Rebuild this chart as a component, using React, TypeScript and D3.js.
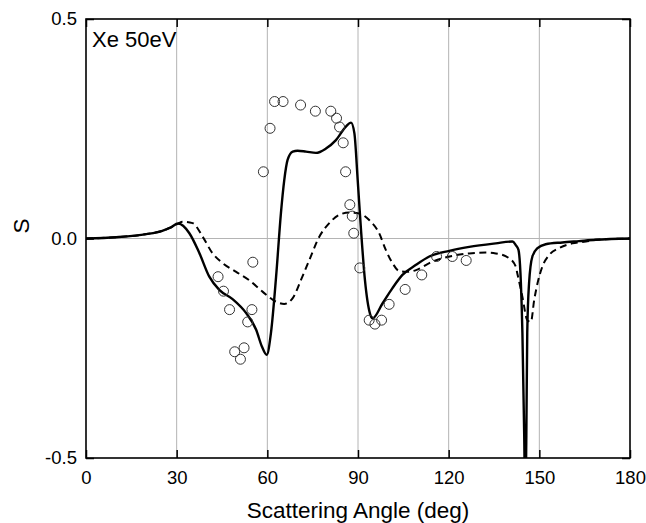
import { useRef, useEffect } from 'react'
import * as d3 from 'd3'

// theory, solid line: [angle (deg), S]
const solidCurve: [number, number][] = [
  [0, 0], [10, 0.003], [20, 0.01], [25, 0.017], [28, 0.025], [30.5, 0.034],
  [34.2, 0.012], [37.5, -0.033], [40.8, -0.087], [44.1, -0.117], [48.5, -0.138],
  [53.0, -0.17], [56.3, -0.208], [58.2, -0.246], [59.8, -0.265], [61.2, -0.215],
  [62.9, -0.087], [64.5, 0.058], [65.6, 0.133], [66.7, 0.179], [68.4, 0.198],
  [70.0, 0.2], [72.8, 0.198], [76.1, 0.195], [79.4, 0.205], [82.7, 0.224],
  [86.0, 0.255], [87.7, 0.264], [88.8, 0.24], [89.9, 0.133], [91.0, 0.019],
  [92.3, -0.095], [94.0, -0.172], [94.8, -0.182], [98.1, -0.148], [101.4, -0.113],
  [104.7, -0.083], [109.2, -0.06], [113.6, -0.041], [120.2, -0.028], [126.8, -0.019],
  [135.6, -0.011], [141.1, -0.007], [142.2, -0.015], [143.1, -0.026], [143.9, -0.102],
  [144.4, -0.215], [145.0, -0.45], [145.35, -0.62], [145.7, -0.45], [146.0, -0.215],
  [146.6, -0.102], [147.7, -0.041], [149.4, -0.022], [152.1, -0.013], [157.6, -0.009],
  [163.1, -0.006], [168.7, -0.003], [180, 0],
]

// theory, dashed line
const dashedCurve: [number, number][] = [
  [0, 0], [10, 0.003], [20, 0.01], [25, 0.017], [28, 0.025], [30.5, 0.034],
  [32.0, 0.038], [35.3, 0.035], [38.6, 0.004], [41.9, -0.034], [45.2, -0.056],
  [49.7, -0.076], [54.0, -0.095], [58.4, -0.121], [62.9, -0.144], [65.6, -0.149],
  [68.4, -0.136], [71.1, -0.095], [73.9, -0.049], [77.2, 0.004], [80.5, 0.035],
  [83.8, 0.054], [87.1, 0.059], [90.4, 0.057], [93.7, 0.042], [97.0, 0.012],
  [99.2, -0.026], [101.4, -0.056], [103.6, -0.074], [105.9, -0.076], [109.2, -0.072],
  [113.6, -0.056], [117.9, -0.045], [122.4, -0.038], [126.8, -0.034], [132.3, -0.032],
  [135.6, -0.034], [140.0, -0.045], [142.2, -0.064], [142.7, -0.079], [144.4, -0.133],
  [146.0, -0.186], [147.2, -0.19], [148.3, -0.14], [149.4, -0.102], [151.0, -0.064],
  [153.2, -0.038], [156.5, -0.022], [160.9, -0.011], [165.4, -0.007], [168.7, -0.003],
  [180, 0],
]

// experiment, open circles
const expPoints: [number, number][] = [
  [43.7, -0.087], [45.5, -0.12], [47.5, -0.162], [49.2, -0.258], [51.1, -0.275],
  [52.3, -0.249], [53.5, -0.19], [54.9, -0.162], [55.2, -0.054], [58.7, 0.152],
  [60.9, 0.251], [62.4, 0.312], [65.2, 0.312], [71.0, 0.304], [75.9, 0.29],
  [81.0, 0.29], [82.9, 0.274], [83.9, 0.254], [85.1, 0.218], [85.9, 0.152],
  [87.3, 0.077], [88.1, 0.051], [88.6, 0.012], [90.6, -0.067], [93.7, -0.186],
  [95.6, -0.195], [97.8, -0.186], [100.3, -0.15], [105.6, -0.116], [111.1, -0.083],
  [116.0, -0.041], [121.2, -0.041], [125.8, -0.05],
]

const xTicks = [0, 30, 60, 90, 120, 150, 180]
const yTicks = [-0.5, 0, 0.5]

const W = 646
const H = 523
const margin = { top: 19, right: 16, bottom: 65, left: 86 }
const font = 'Liberation Sans, Arial, sans-serif'

const App = () => {
  const svgRef = useRef<SVGSVGElement>(null)

  useEffect(() => {
    const svg = d3.select(svgRef.current)
    svg.selectAll('*').remove()

    const iw = W - margin.left - margin.right
    const ih = H - margin.top - margin.bottom

    const x = d3.scaleLinear().domain([0, 180]).range([0, iw])
    const y = d3.scaleLinear().domain([-0.5, 0.5]).range([ih, 0])

    svg.append('defs').append('clipPath').attr('id', 'plot-clip')
      .append('rect').attr('width', iw).attr('height', ih)

    const g = svg.append('g').attr('transform', `translate(${margin.left},${margin.top})`)

    // grid
    g.selectAll('.vgrid')
      .data(xTicks.slice(1, -1))
      .join('line')
      .attr('x1', d => x(d)).attr('x2', d => x(d))
      .attr('y1', 0).attr('y2', ih)
      .attr('stroke', '#b4b4b4').attr('stroke-width', 1)
    g.append('line')
      .attr('x1', 0).attr('x2', iw)
      .attr('y1', y(0)).attr('y2', y(0))
      .attr('stroke', '#b4b4b4').attr('stroke-width', 1)

    // axes (inward ticks)
    const fmt = (d: number) => d.toFixed(1)
    const styleAxis = (sel: any) => {
      sel.select('.domain').remove()
      sel.selectAll('line').attr('stroke', '#000').attr('stroke-width', 1.5)
      sel.selectAll('text').attr('fill', '#000')
    }

    g.append('g')
      .attr('transform', `translate(0,${ih})`)
      .call(d3.axisBottom(x).tickValues(xTicks).tickSizeInner(-8).tickSizeOuter(0).tickPadding(12.5))
      .attr('font-family', font).attr('font-size', 18.5)
      .call(styleAxis)
    g.append('g')
      .call(d3.axisTop(x).tickValues(xTicks).tickSizeInner(-8).tickSizeOuter(0).tickFormat(() => ''))
      .call(styleAxis)
    g.append('g')
      .call(d3.axisLeft(y).tickValues(yTicks).tickFormat(fmt as any).tickSizeInner(-8).tickSizeOuter(0).tickPadding(9))
      .attr('font-family', font).attr('font-size', 18.5)
      .call(styleAxis)
    g.append('g')
      .attr('transform', `translate(${iw},0)`)
      .call(d3.axisRight(y).tickValues(yTicks).tickSizeInner(-8).tickSizeOuter(0).tickFormat(() => ''))
      .call(styleAxis)

    // curves
    const line = d3.line<[number, number]>()
      .x(d => x(d[0]))
      .y(d => y(d[1]))
      .curve(d3.curveMonotoneX)

    const plot = g.append('g').attr('clip-path', 'url(#plot-clip)')

    plot.append('path')
      .datum(dashedCurve)
      .attr('d', line)
      .attr('fill', 'none')
      .attr('stroke', '#000')
      .attr('stroke-width', 2)
      .attr('stroke-dasharray', '7,4.5')

    plot.append('path')
      .datum(solidCurve)
      .attr('d', line)
      .attr('fill', 'none')
      .attr('stroke', '#000')
      .attr('stroke-width', 2.4)

    plot.selectAll('.pt')
      .data(expPoints)
      .join('circle')
      .attr('cx', d => x(d[0]))
      .attr('cy', d => y(d[1]))
      .attr('r', 5)
      .attr('fill', 'none')
      .attr('stroke', '#333')
      .attr('stroke-width', 1)

    // frame
    g.append('rect')
      .attr('width', iw).attr('height', ih)
      .attr('fill', 'none').attr('stroke', '#000').attr('stroke-width', 1.6)

    // labels
    g.append('text')
      .attr('x', 6).attr('y', 28)
      .attr('font-family', font).attr('font-size', 22)
      .text('Xe 50eV')

    svg.append('text')
      .attr('x', margin.left + iw / 2).attr('y', 518)
      .attr('text-anchor', 'middle')
      .attr('font-family', font).attr('font-size', 22.5)
      .text('Scattering Angle (deg)')

    svg.append('text')
      .attr('transform', `translate(28.5,226) rotate(-90)`)
      .attr('text-anchor', 'middle')
      .attr('font-family', font).attr('font-size', 22.5)
      .text('S')
  }, [])

  return (
    <div>
      <svg ref={svgRef} width={W} height={H} style={{ position: 'absolute', left: 0, top: 0, background: '#fff' }} />
    </div>
  )
}

export default App
